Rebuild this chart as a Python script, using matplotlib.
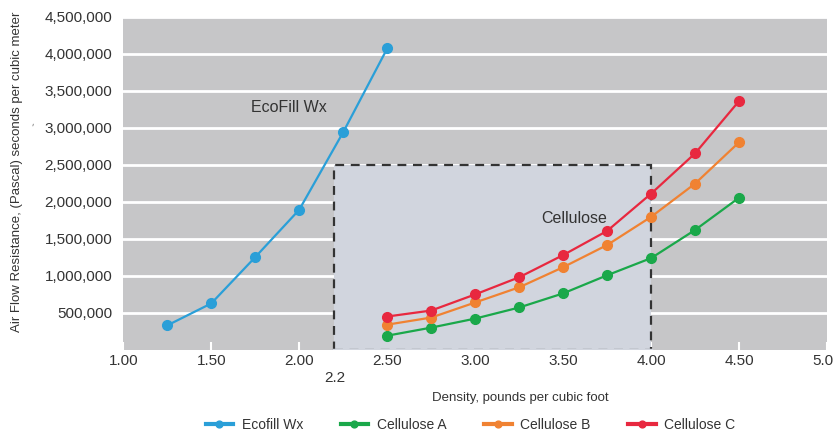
import matplotlib
matplotlib.use("Agg")
import matplotlib.pyplot as plt
from matplotlib.patches import Rectangle
from matplotlib.ticker import FuncFormatter
import matplotlib.transforms as mtransforms

plt.rcParams['font.family'] = ['Liberation Sans', 'DejaVu Sans']

# data
eco_x = [1.25, 1.50, 1.75, 2.00, 2.25, 2.50]
eco_y = [330000, 627000, 1253000, 1894000, 2943000, 4074000]

cell_x = [2.50, 2.75, 3.00, 3.25, 3.50, 3.75, 4.00, 4.25, 4.50]
cell_a = [191000, 300000, 422000, 572000, 763000, 1008000, 1240000, 1621000, 2057000]
cell_b = [340000, 436000, 640000, 845000, 1117000, 1417000, 1798000, 2248000, 2807000]
cell_c = [450000, 531000, 749000, 981000, 1281000, 1608000, 2112000, 2657000, 3365000]

x_ticks = [1.0, 1.5, 2.0, 2.5, 3.0, 3.5, 4.0, 4.5, 5.0]
y_ticks = [500000, 1000000, 1500000, 2000000, 2500000, 3000000, 3500000, 4000000, 4500000]

box_x0, box_x1, box_top = 2.2, 4.0, 2500000

txt = '#333333'
fig = plt.figure(figsize=(8.33, 4.34), dpi=100)
ax = fig.add_axes([0.148, 0.194, 0.845, 0.767])
ax.set_facecolor('#c6c6c8')
for s in ax.spines.values():
    s.set_visible(False)

ax.set_xlim(1.0, 5.0)
ax.set_ylim(0, 4500000)
ax.set_xticks(x_ticks)
ax.set_yticks(y_ticks)
ax.xaxis.set_major_formatter(FuncFormatter(lambda v, p: f"{v:.2f}"))
ax.yaxis.set_major_formatter(FuncFormatter(lambda v, p: f"{int(v):,}"))
ax.tick_params(axis='x', direction='in', length=6, width=1.5, color='white',
               labelsize=11, labelcolor=txt, pad=3)
ax.tick_params(axis='y', length=0, labelsize=11, labelcolor=txt, pad=8)
ax.grid(axis='y', color='white', linewidth=2)
ax.set_axisbelow(True)

# highlighted cellulose region
ax.add_patch(Rectangle((box_x0, 0), box_x1 - box_x0, box_top, facecolor='#d1d5de',
                       edgecolor='#333333', linestyle=(0, (4, 3)), linewidth=1.6,
                       zorder=1.5))
# hide the bottom edge of the box
ax.plot([box_x0, box_x1], [0, 0], color='#d1d5de', lw=2.5, zorder=1.6)

ms = 7
ax.plot(eco_x, eco_y, '-o', color='#2a9fd8', lw=1.6, ms=ms, label='Ecofill Wx', zorder=3)
ax.plot(cell_x, cell_a, '-o', color='#1aa84a', lw=1.6, ms=ms, label='Cellulose A', zorder=3)
ax.plot(cell_x, cell_b, '-o', color='#f08232', lw=1.6, ms=ms, label='Cellulose B', zorder=3)
ax.plot(cell_x, cell_c, '-o', color='#e8283f', lw=1.6, ms=ms, label='Cellulose C', zorder=3)

ax.text(1.94, 3280000, 'EcoFill Wx', fontsize=11.5, color=txt, ha='center', va='center')
ax.text(3.56, 1780000, 'Cellulose', fontsize=11.5, color=txt, ha='center', va='center')

trans = mtransforms.blended_transform_factory(ax.transData, ax.transAxes)
ax.text(2.2, -0.085, '2.2', transform=trans, fontsize=11, color=txt,
        ha='center', va='center')

ax.set_xlabel('Density, pounds per cubic foot', fontsize=9.5, color=txt)
ax.xaxis.set_label_coords(0.564, -0.128)
ax.set_ylabel('Air Flow Resistance, (Pascal) seconds per cubic meter', fontsize=9.5,
              color=txt)
ax.yaxis.set_label_coords(-0.142, 0.535)
fig.text(0.040, 0.714, '-', fontsize=7, rotation=75, color='#555555',
         ha='center', va='center')

leg = ax.legend(loc='center', bbox_to_anchor=(0.493, -0.225), ncol=4, frameon=False,
                fontsize=10, handlelength=2.0, columnspacing=2.7, handletextpad=0.6,
                markerscale=0.7)
for t in leg.get_texts():
    t.set_color(txt)
for ln in leg.get_lines():
    ln.set_linewidth(3)

fig.savefig('out.png', dpi=100)
